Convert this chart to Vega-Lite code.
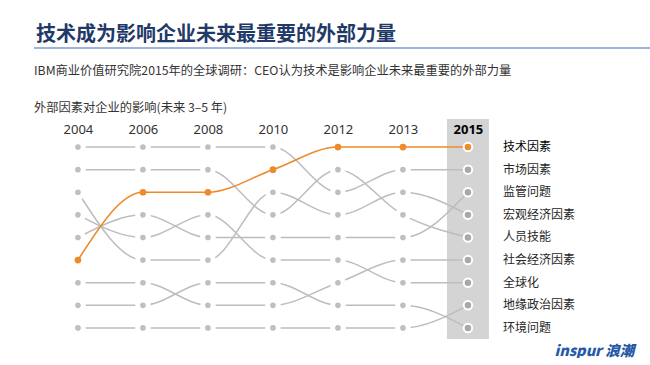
{
  "$schema": "https://vega.github.io/schema/vega-lite/v6.json",
  "padding": {"left": 34, "top": 25, "right": 0, "bottom": 0},
  "background": "white",
  "title": {"text": "技术成为影响企业未来最重要的外部力量", "anchor": "start", "dx": 2, "fontSize": 20, "fontWeight": "bold", "font": "Noto Sans CJK SC", "color": "#1F3A68", "offset": 2},
  "spacing": 16,
  "config": {"view": {"stroke": null}, "font": "Noto Sans CJK SC"},
  "vconcat": [
    {
      "width": 616,
      "height": 2,
      "view": {"fill": "#9DB4DE", "stroke": null},
      "data": {"values": []},
      "mark": "point"
    },
    {
      "width": 520,
      "height": 220,
      "title": {
        "text": "IBM商业价值研究院2015年的全球调研：CEO认为技术是影响企业未来最重要的外部力量",
        "subtitle": "外部因素对企业的影响(未来 3–5 年)",
        "anchor": "start",
        "frame": "group",
        "fontSize": 12.25,
        "fontWeight": "normal",
        "font": "Noto Sans CJK SC",
        "color": "#333333",
        "lineHeight": 18.5,
        "subtitleFontSize": 12.25,
        "subtitleFont": "Noto Sans CJK SC",
        "subtitleColor": "#333333",
        "subtitleFontWeight": "normal",
        "subtitleLineHeight": 18.5,
        "subtitlePadding": 24.5,
        "offset": 5
      },
      "data": {"values": [
        {"factor": "技术因素", "year": "2004", "rank": 6},
        {"factor": "技术因素", "year": "2006", "rank": 3},
        {"factor": "技术因素", "year": "2008", "rank": 3},
        {"factor": "技术因素", "year": "2010", "rank": 2},
        {"factor": "技术因素", "year": "2012", "rank": 1},
        {"factor": "技术因素", "year": "2013", "rank": 1},
        {"factor": "技术因素", "year": "2015", "rank": 1},
        {"factor": "市场因素", "year": "2004", "rank": 1},
        {"factor": "市场因素", "year": "2006", "rank": 1},
        {"factor": "市场因素", "year": "2008", "rank": 1},
        {"factor": "市场因素", "year": "2010", "rank": 1},
        {"factor": "市场因素", "year": "2012", "rank": 3},
        {"factor": "市场因素", "year": "2013", "rank": 2},
        {"factor": "市场因素", "year": "2015", "rank": 2},
        {"factor": "监管问题", "year": "2004", "rank": 5},
        {"factor": "监管问题", "year": "2006", "rank": 4},
        {"factor": "监管问题", "year": "2008", "rank": 5},
        {"factor": "监管问题", "year": "2010", "rank": 5},
        {"factor": "监管问题", "year": "2012", "rank": 5},
        {"factor": "监管问题", "year": "2013", "rank": 5},
        {"factor": "监管问题", "year": "2015", "rank": 3},
        {"factor": "宏观经济因素", "year": "2004", "rank": 3},
        {"factor": "宏观经济因素", "year": "2006", "rank": 6},
        {"factor": "宏观经济因素", "year": "2008", "rank": 6},
        {"factor": "宏观经济因素", "year": "2010", "rank": 3},
        {"factor": "宏观经济因素", "year": "2012", "rank": 4},
        {"factor": "宏观经济因素", "year": "2013", "rank": 3},
        {"factor": "宏观经济因素", "year": "2015", "rank": 4},
        {"factor": "人员技能", "year": "2004", "rank": 2},
        {"factor": "人员技能", "year": "2006", "rank": 2},
        {"factor": "人员技能", "year": "2008", "rank": 2},
        {"factor": "人员技能", "year": "2010", "rank": 4},
        {"factor": "人员技能", "year": "2012", "rank": 2},
        {"factor": "人员技能", "year": "2013", "rank": 4},
        {"factor": "人员技能", "year": "2015", "rank": 5},
        {"factor": "社会经济因素", "year": "2004", "rank": 7},
        {"factor": "社会经济因素", "year": "2006", "rank": 7},
        {"factor": "社会经济因素", "year": "2008", "rank": 8},
        {"factor": "社会经济因素", "year": "2010", "rank": 8},
        {"factor": "社会经济因素", "year": "2012", "rank": 7},
        {"factor": "社会经济因素", "year": "2013", "rank": 6},
        {"factor": "社会经济因素", "year": "2015", "rank": 6},
        {"factor": "全球化", "year": "2004", "rank": 4},
        {"factor": "全球化", "year": "2006", "rank": 5},
        {"factor": "全球化", "year": "2008", "rank": 4},
        {"factor": "全球化", "year": "2010", "rank": 6},
        {"factor": "全球化", "year": "2012", "rank": 6},
        {"factor": "全球化", "year": "2013", "rank": 7},
        {"factor": "全球化", "year": "2015", "rank": 7},
        {"factor": "地缘政治因素", "year": "2004", "rank": 9},
        {"factor": "地缘政治因素", "year": "2006", "rank": 9},
        {"factor": "地缘政治因素", "year": "2008", "rank": 9},
        {"factor": "地缘政治因素", "year": "2010", "rank": 9},
        {"factor": "地缘政治因素", "year": "2012", "rank": 9},
        {"factor": "地缘政治因素", "year": "2013", "rank": 9},
        {"factor": "地缘政治因素", "year": "2015", "rank": 8},
        {"factor": "环境问题", "year": "2004", "rank": 8},
        {"factor": "环境问题", "year": "2006", "rank": 8},
        {"factor": "环境问题", "year": "2008", "rank": 7},
        {"factor": "环境问题", "year": "2010", "rank": 7},
        {"factor": "环境问题", "year": "2012", "rank": 8},
        {"factor": "环境问题", "year": "2013", "rank": 8},
        {"factor": "环境问题", "year": "2015", "rank": 9}
      ]},
      "resolve": {"axis": {"x": "independent"}},
      "layer": [
        {
          "data": {"values": [{"year": "2015"}]},
          "mark": {"type": "bar", "width": 42, "color": "#D4D4D4"},
          "encoding": {
            "x": {
              "field": "year", "type": "ordinal",
              "scale": {"type": "point", "padding": 1, "align": 0.338},
              "axis": {"orient": "bottom", "labels": false, "ticks": false, "domain": false, "grid": false,
                "title": "inspur 浪潮", "titleAnchor": "end", "titleAlign": "left", "titleFontSize": 14.5, "titleFontStyle": "italic",
                "titleFontWeight": 900, "titleColor": "#2559A8", "titlePadding": 5, "titleFont": "Noto Sans CJK SC"}
            }
          }
        },
        {
          "transform": [{"filter": "datum.factor !== '技术因素'"}],
          "mark": {"type": "line", "color": "#BDBDBD", "strokeWidth": 1.5, "interpolate": "monotone"},
          "encoding": {
            "x": {"field": "year", "type": "ordinal",
              "axis": {"orient": "top", "offset": -17, "domain": false, "ticks": false, "grid": false,
                "labelFontSize": 13, "labelFont": "Noto Sans", "labelPadding": 0, "labelAngle": 0, "title": null, "zindex": 1,
                "labelColor": {"condition": {"test": "datum.value === '2015'", "value": "#000000"}, "value": "#333333"},
                "labelFontWeight": {"condition": {"test": "datum.value === '2015'", "value": "bold"}, "value": "normal"}}},
            "y": {"field": "rank", "type": "quantitative", "scale": {"domain": [-0.24, 9.49], "reverse": true, "nice": false, "zero": false}, "axis": null},
            "detail": {"field": "factor"}
          }
        },
        {
          "transform": [{"filter": "datum.factor === '技术因素'"}],
          "mark": {"type": "line", "color": "#EE8A2A", "strokeWidth": 1.6, "interpolate": "monotone"},
          "encoding": {
            "x": {"field": "year", "type": "ordinal", "axis": null},
            "y": {"field": "rank", "type": "quantitative", "axis": null}
          }
        },
        {
          "mark": {"type": "point", "shape": "circle", "filled": true, "opacity": 1},
          "encoding": {
            "x": {"field": "year", "type": "ordinal", "axis": null},
            "y": {"field": "rank", "type": "quantitative", "axis": null},
            "fill": {"condition": [{"test": "datum.factor === '技术因素'", "value": "#EE8A2A"}, {"test": "datum.year === '2015'", "value": "#A8A8A8"}], "value": "#BFBFBF"},
            "stroke": {"value": "#FFFFFF"},
            "strokeWidth": {"condition": [{"test": "datum.year === '2015'", "value": 2}, {"test": "datum.factor === '技术因素'", "value": 0}], "value": 5},
            "size": {"condition": [{"test": "datum.year === '2015'", "value": 72}, {"test": "datum.factor === '技术因素'", "value": 45}], "value": 113}
          }
        },
        {
          "transform": [{"filter": "datum.year === '2015'"}],
          "mark": {"type": "text", "align": "left", "baseline": "middle", "dx": 35, "fontSize": 12, "font": "Noto Sans CJK SC"},
          "encoding": {
            "x": {"field": "year", "type": "ordinal", "axis": null},
            "y": {"field": "rank", "type": "quantitative", "axis": null},
            "text": {"field": "factor"},
            "fontWeight": {"condition": {"test": "datum.factor === '技术因素'", "value": "bold"}, "value": "normal"},
            "color": {"condition": {"test": "datum.factor === '技术因素'", "value": "#000000"}, "value": "#262626"}
          }
        }
      ]
    }
  ]
}
